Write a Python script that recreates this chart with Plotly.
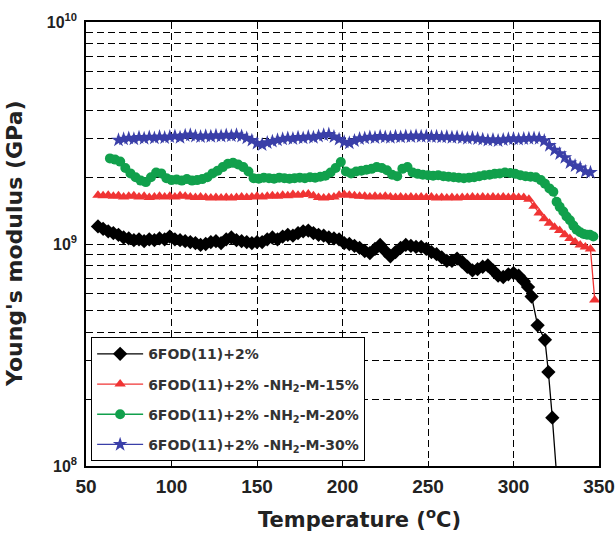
import plotly.graph_objects as go

# ---- data (modulus in units of 1e9 Pa) ----
t_black = [57, 60, 63, 66, 69, 72, 75, 78, 81, 84, 87, 90, 93, 96, 99, 102, 105, 108, 111, 114,
           117, 120, 123, 126, 129, 132, 135, 138, 141, 144, 147, 150, 153, 156, 159, 162, 165, 168,
           171, 174, 177, 180, 183, 186, 189, 192, 195, 198, 201, 204, 207, 210, 213, 216, 219, 222,
           225, 228, 231, 234, 237, 240, 243, 246, 249, 252, 255, 258, 261, 264, 267, 270, 273, 276,
           279, 282, 285, 288, 291, 294, 297, 300, 303, 306, 308.5, 310.6, 314.1, 318.4, 320.4, 322.7, 325.5]
e_black = [1.20, 1.17, 1.14, 1.12, 1.10, 1.07, 1.06, 1.04, 1.05, 1.03, 1.05, 1.04, 1.06, 1.05, 1.08,
           1.05, 1.04, 1.03, 1.02, 1.01, 0.99, 1.00, 1.02, 1.03, 1.01, 1.05, 1.07, 1.04, 1.03, 1.02,
           1.01, 1.02, 1.02, 1.05, 1.07, 1.05, 1.08, 1.10, 1.09, 1.12, 1.14, 1.15, 1.12, 1.10, 1.09,
           1.07, 1.06, 1.05, 1.01, 1.00, 0.98, 0.96, 0.93, 0.91, 0.95, 0.99, 0.93, 0.88, 0.92, 0.96,
           0.99, 0.98, 0.97, 0.97, 0.95, 0.92, 0.90, 0.87, 0.84, 0.84, 0.86, 0.83, 0.79, 0.76, 0.77,
           0.79, 0.80, 0.76, 0.72, 0.71, 0.73, 0.74, 0.72, 0.68, 0.64, 0.58, 0.43, 0.37, 0.265, 0.165, 0.085]

t_red = [57, 60, 63, 66, 69, 72, 75, 78, 81, 84, 87, 90, 93, 96, 99, 102, 105, 108, 111, 114,
         117, 120, 123, 126, 129, 132, 135, 138, 141, 144, 147, 150, 153, 156, 159, 162, 165, 168,
         171, 174, 177, 180, 183, 186, 189, 192, 195, 198, 201, 204, 207, 210, 213, 216, 219, 222,
         225, 228, 231, 234, 237, 240, 243, 246, 249, 252, 255, 258, 261, 264, 267, 270, 273, 276,
         279, 282, 285, 288, 291, 294, 297, 300, 303, 306, 309, 312, 315, 318, 321, 324, 327, 330,
         333, 336, 339, 342, 345, 347.5]
e_red = [1.66, 1.65, 1.66, 1.64, 1.65, 1.63, 1.64, 1.65, 1.63, 1.64, 1.62, 1.63, 1.64, 1.63, 1.64,
         1.63, 1.65, 1.64, 1.63, 1.62, 1.63, 1.62, 1.61, 1.62, 1.61, 1.62, 1.61, 1.62, 1.63, 1.62,
         1.63, 1.64, 1.63, 1.64, 1.65, 1.64, 1.66, 1.65, 1.67, 1.66, 1.67, 1.68, 1.65, 1.62, 1.61,
         1.62, 1.63, 1.66, 1.67, 1.66, 1.65, 1.64, 1.64, 1.63, 1.64, 1.63, 1.64, 1.63, 1.62, 1.63,
         1.62, 1.63, 1.62, 1.63, 1.62, 1.63, 1.61, 1.62, 1.61, 1.62, 1.61, 1.62, 1.62, 1.63, 1.62,
         1.63, 1.62, 1.63, 1.62, 1.63, 1.62, 1.63, 1.62, 1.62, 1.59, 1.48, 1.38, 1.30, 1.24, 1.19,
         1.15, 1.10, 1.06, 1.02, 0.99, 0.97, 0.95, 0.56]

t_green = [64, 67, 70, 73, 76, 79, 82, 85, 88, 91, 94, 97, 100, 103, 106, 109, 112, 115, 118, 121,
           124, 127, 130, 133, 136, 139, 142, 145, 148, 151, 154, 157, 160, 163, 166, 169, 172, 175,
           178, 181, 184, 187, 190, 193, 196, 199, 202, 205, 208, 211, 214, 217, 220, 223, 226, 229,
           232, 235, 238, 241, 244, 247, 250, 253, 256, 259, 262, 265, 268, 271, 274, 277, 280, 283,
           286, 289, 292, 295, 298, 301, 304, 307, 310, 313, 316, 318.4, 321, 323.3, 325.2, 327, 329.1,
           331, 333, 335, 336.9, 339, 341, 343, 344.7, 346.7]
e_green = [2.43, 2.40, 2.35, 2.20, 2.08, 2.00, 1.93, 1.90, 2.00, 2.10, 2.08, 1.98, 1.94, 1.95, 1.93,
           1.96, 1.93, 1.94, 1.96, 2.00, 2.08, 2.14, 2.22, 2.30, 2.32, 2.28, 2.22, 2.12, 1.98, 1.97,
           1.99, 1.98, 1.97, 1.99, 1.98, 1.97, 1.98, 1.99, 1.98, 2.00, 1.99, 2.01, 2.03, 2.10, 2.20,
           2.34, 2.12, 2.08, 2.12, 2.14, 2.16, 2.18, 2.22, 2.20, 2.15, 2.05, 2.02, 2.18, 2.22, 2.10,
           2.07, 2.05, 2.04, 2.03, 2.04, 2.02, 2.01, 2.00, 1.99, 1.98, 1.99, 2.00, 2.02, 2.04, 2.05,
           2.07, 2.08, 2.10, 2.09, 2.07, 2.04, 2.02, 2.01, 2.00, 1.94, 1.87, 1.78, 1.72, 1.55, 1.47,
           1.40, 1.33, 1.28, 1.21, 1.16, 1.13, 1.11, 1.10, 1.10, 1.08]

t_blue = [69, 72, 75, 78, 81, 84, 87, 90, 93, 96, 99, 102, 105, 108, 111, 114, 117, 120, 123, 126,
          129, 132, 135, 138, 141, 144, 147, 150, 153, 156, 159, 162, 165, 168, 171, 174, 177, 180,
          183, 186, 189, 192, 195, 198, 201, 204, 207, 210, 213, 216, 219, 222, 225, 228, 231, 234,
          237, 240, 243, 246, 249, 252, 255, 258, 261, 264, 267, 270, 273, 276, 279, 282, 285, 288,
          291, 294, 297, 300, 303, 306, 309, 312, 315, 318, 321, 324, 327, 330, 333, 336, 339, 342, 345]
e_blue = [2.94, 2.97, 3.00, 2.97, 3.02, 2.99, 3.03, 3.00, 3.04, 3.01, 3.04, 3.06, 3.02, 3.08, 3.10,
          3.06, 3.04, 3.07, 3.05, 3.08, 3.06, 3.09, 3.07, 3.10, 3.06, 3.00, 2.93, 2.84, 2.80, 2.86,
          2.90, 2.94, 2.97, 3.00, 2.98, 3.02, 3.00, 3.04, 3.02, 3.06, 3.10, 3.12, 3.04, 2.96, 2.88,
          2.85, 2.92, 2.98, 3.00, 3.03, 3.01, 3.05, 3.03, 3.02, 3.05, 3.03, 3.06, 3.04, 3.07, 3.05,
          3.06, 3.04, 3.05, 3.03, 3.04, 3.02, 3.03, 3.01, 2.99, 3.01, 2.98, 2.96, 2.93, 2.95, 2.92,
          2.95, 2.97, 2.98, 2.96, 2.98, 2.99, 3.00, 2.99, 2.92, 2.78, 2.65, 2.55, 2.45, 2.32, 2.25,
          2.20, 2.12, 2.10]

names = ["6FOD(11)+2%",
         "6FOD(11)+2% -NH<sub>2</sub>-M-15%",
         "6FOD(11)+2% -NH<sub>2</sub>-M-20%",
         "6FOD(11)+2% -NH<sub>2</sub>-M-30%"]

x_tickvals = [50, 100, 150, 200, 250, 300, 350]
x_ticktext = ["50", "100", "150", "200", "250", "300", "350"]
y_tickvals = [0.1, 1, 10]
y_ticktext = ["10<sup>8</sup>", "10<sup>9</sup>", "10<sup>10</sup>"]
y_minorvals = [0.2, 0.3, 0.4, 0.5, 0.6, 0.7, 0.8, 0.9, 2, 3, 4, 5, 6, 7, 8, 9]

x_title = "Temperature (<sup>o</sup>C)"
y_title = "Young's modulus (GPa)"

colors = ["#000000", "#f03434", "#11a04c", "#3a3fa8"]
symbols = ["diamond", "triangle-up", "circle", "star"]
sizes = [11, 10, 10, 11]

DJ = "DejaVu Sans, Liberation Sans, Arial, sans-serif"
LIB = "Liberation Sans, Arial, sans-serif"
TXT = "#222222"

fig = go.Figure()
series = [(t_black, e_black), (t_red, e_red), (t_green, e_green), (t_blue, e_blue)]
for i, (t, e) in enumerate(series):
    fig.add_trace(go.Scatter(
        x=t, y=e, name=names[i], mode="lines+markers", legendgroup=f"g{i}",
        line=dict(color=colors[i], width=1.3),
        marker=dict(symbol=symbols[i], size=sizes[i], color=colors[i], line=dict(width=0)),
    ))

fig.update_layout(
    width=616, height=533,
    margin=dict(l=86, r=17, t=22, b=67),
    paper_bgcolor="white", plot_bgcolor="white",
    font=dict(family=DJ, color=TXT, size=15, weight="bold"),
    showlegend=True,
    legend=dict(
        x=0.01, y=0.29, xanchor="left", yanchor="top",
        bordercolor="black", borderwidth=1, bgcolor="white",
        font=dict(family=DJ, size=14, color="#333333", weight="bold"),
        itemwidth=46, tracegroupgap=9,
    ),
    annotations=[
        dict(text=x_title, xref="paper", yref="paper", x=0.534, y=-0.117,
             xanchor="center", yanchor="middle", showarrow=False,
             font=dict(family=DJ, size=21, color=TXT, weight="bold")),
        dict(text=y_title, xref="paper", yref="paper", x=(14 - 86) / 513, y=0.5,
             xanchor="center", yanchor="middle", showarrow=False, textangle=-90,
             font=dict(family=DJ, size=22, color=TXT, weight="bold")),
    ],
)

fig.update_xaxes(
    range=[50, 350], tickvals=x_tickvals, ticktext=x_ticktext, automargin=False,
    showline=True, linecolor="black", linewidth=1.5, mirror=True,
    ticks="inside", ticklen=5, tickcolor="black", ticklabelstandoff=2,
    showgrid=True, gridcolor="black", gridwidth=1, griddash="7px,4px",
    zeroline=False,
    tickfont=dict(family=LIB, size=19, color=TXT, weight="bold"),
)
fig.update_yaxes(
    type="log", range=[-1, 1], tickvals=y_tickvals, ticktext=y_ticktext, automargin=False,
    showline=True, linecolor="black", linewidth=1.5, mirror=True,
    ticks="", ticklabelstandoff=4,
    showgrid=True, gridcolor="black", gridwidth=1, griddash="7px,4px",
    minor=dict(tickmode="array", tickvals=y_minorvals, showgrid=True,
               gridcolor="black", gridwidth=1, griddash="7px,4px", ticks=""),
    zeroline=False,
    tickfont=dict(family=LIB, size=16, color=TXT, weight="bold"),
)

# remove the default 8px page margin so the 616x533 figure fills the window exactly
fig.write_html("out.html", config={"displayModeBar": False},
               post_script="document.body.style.margin='0px';document.body.style.overflow='hidden';")
